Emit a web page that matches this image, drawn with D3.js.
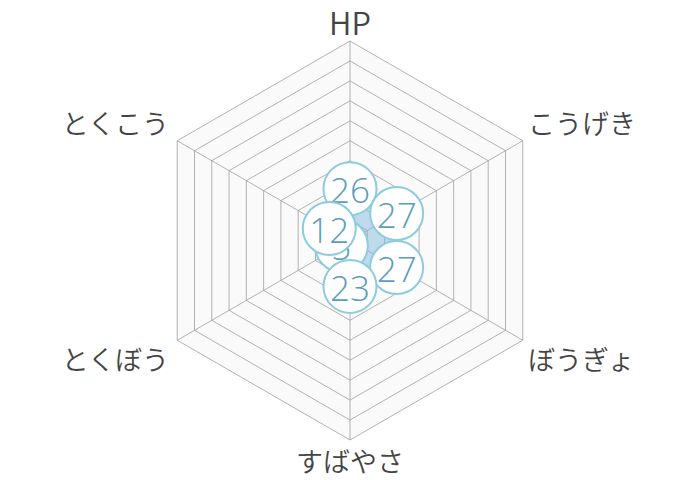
<!DOCTYPE html>
<html><head><meta charset="utf-8">
<script src="https://cdn.jsdelivr.net/npm/d3@7/dist/d3.min.js"></script>
<style>body{margin:0;background:#fff}svg{display:block}</style>
</head><body>
<svg id="chart" width="700" height="480"></svg>
<script>
const categories = ["HP", "こうげき", "ぼうぎょ", "すばやさ", "とくぼう", "とくこう"];
const values = [26, 27, 27, 23, 5, 12];
const maxValue = 100;
const ringTicks = [10, 20, 30, 40, 50, 60, 70, 80, 90, 100];
const drawOrder = [4, 0, 1, 2, 3, 5];

const svg = d3.select("#chart");
const cx = 350, cy = 240.5, R = 199.5;
const r = d3.scaleLinear().domain([0, maxValue]).range([0, R]);
const n = categories.length;
const ang = i => -Math.PI / 2 + i * 2 * Math.PI / n;
const pt = (i, v) => [cx + r(v) * Math.cos(ang(i)), cy + r(v) * Math.sin(ang(i))];
const hexPath = v => d3.line()(d3.range(n).map(i => pt(i, v))) + "Z";

const g = svg.append("g");
g.append("path").attr("d", hexPath(maxValue)).attr("fill", "#fafafa").attr("stroke", "none");
ringTicks.forEach(t => {
  g.append("path").attr("d", hexPath(t)).attr("fill", "none")
    .attr("stroke", "#a0a0a0").attr("stroke-width", 0.8);
});
d3.range(n).forEach(i => {
  const p = pt(i, maxValue);
  g.append("line").attr("x1", cx).attr("y1", cy).attr("x2", p[0]).attr("y2", p[1])
    .attr("stroke", "#a0a0a0").attr("stroke-width", 0.8);
});

// data polygon
g.append("path").attr("d", d3.line()(values.map((v, i) => pt(i, v))) + "Z")
  .attr("fill", "rgba(120,180,215,0.45)").attr("stroke", "#8ccbe0").attr("stroke-width", 1.5);

// labels
const labelFont = "'Noto Sans CJK JP', 'Noto Sans', sans-serif";
const labelPos = [
  {x: cx, y: 21, anchor: "middle", size: 31},
  {x: 528, y: 122, anchor: "start", size: 27},
  {x: 528, y: 358, anchor: "start", size: 27},
  {x: cx, y: 460, anchor: "middle", size: 27},
  {x: 169, y: 358, anchor: "end", size: 27},
  {x: 169, y: 122, anchor: "end", size: 27}
];
categories.forEach((c, i) => {
  svg.append("text").attr("x", labelPos[i].x).attr("y", labelPos[i].y)
    .attr("text-anchor", labelPos[i].anchor).attr("dominant-baseline", "central")
    .attr("font-family", labelFont).attr("font-weight", 350)
    .attr("font-size", labelPos[i].size).attr("fill", "#444")
    .text(c);
});

// bubbles
drawOrder.forEach(i => {
  const p = pt(i, values[i]);
  const b = svg.append("g");
  b.append("circle").attr("cx", p[0]).attr("cy", p[1]).attr("r", 26.5)
    .attr("fill", "#fff").attr("stroke", "#8ccbe0").attr("stroke-width", 2);
  b.append("text").attr("x", p[0]).attr("y", p[1] + 1).attr("text-anchor", "middle")
    .attr("dominant-baseline", "central").attr("font-family", "'Open Sans', sans-serif")
    .attr("font-weight", 300)
    .attr("font-size", 35).attr("fill", "#5b9dbd").text(values[i]);
});
</script>
</body></html>
